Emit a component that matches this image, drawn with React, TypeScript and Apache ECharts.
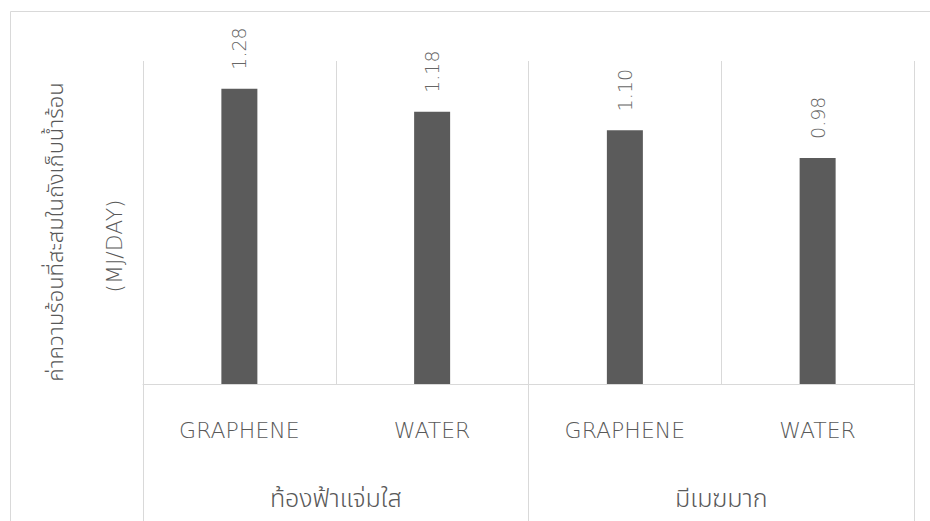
import React, { useEffect, useRef } from "react";
import * as echarts from "echarts";

const subCategories = ["GRAPHENE", "WATER", "GRAPHENE", "WATER"];
const groupCategories = ["ท้องฟ้าแจ่มใส", "มีเมฆมาก"];
const heatValues = [1.28, 1.18, 1.1, 0.98];
const yTitleLine1 = "ค่าความร้อนที่สะสมในถังเก็บน้ำร้อน";
const yTitleLine2 = "(MJ/DAY)";

const FONT = '"Open Sans", "Noto Sans", "Noto Sans Thai", "DejaVu Sans", sans-serif';
const LATIN_FONT = '"DejaVu Sans", "Open Sans", sans-serif';
const GRID_COLOR = "#d9d9d9";
const TEXT_COLOR = "#595959";

export default function App() {
  const ref = useRef<HTMLDivElement>(null);
  useEffect(() => {
    if (!ref.current) return;
    const chart = echarts.init(ref.current, null, { renderer: "svg" });
    chart.setOption({
      animation: false,
      backgroundColor: "#ffffff",
      textStyle: { fontFamily: FONT },
      grid: { left: 143, right: 16, top: 61, bottom: 137, containLabel: false },
      xAxis: [
        {
          type: "category",
          data: subCategories,
          boundaryGap: true,
          axisLine: { show: true, lineStyle: { color: GRID_COLOR, width: 1 } },
          axisTick: { show: false },
          splitLine: { show: true, lineStyle: { color: GRID_COLOR, width: 1 } },
          axisLabel: {
            margin: 35,
            fontSize: 22,
            fontWeight: 200,
            color: TEXT_COLOR,
            fontFamily: LATIN_FONT,
          },
        },
        {
          type: "category",
          data: groupCategories,
          position: "bottom",
          boundaryGap: true,
          axisLine: { show: false },
          axisTick: { show: true, length: 150, lineStyle: { color: GRID_COLOR, width: 1 } },
          splitLine: { show: false },
          axisLabel: {
            margin: 100,
            fontSize: 25,
            fontWeight: 300,
            color: TEXT_COLOR,
            fontFamily: FONT,
          },
        },
      ],
      yAxis: {
        type: "value",
        min: 0,
        max: 1.4,
        interval: 0.2,
        axisLine: { show: false },
        axisTick: { show: false },
        axisLabel: { show: false },
        splitLine: { show: false },
      },
      series: [
        {
          type: "bar",
          xAxisIndex: 0,
          data: heatValues,
          barWidth: 36,
          itemStyle: { color: "#5b5b5b" },
          label: {
            show: true,
            position: "top",
            distance: 19,
            rotate: 90,
            align: "left",
            verticalAlign: "middle",
            fontSize: 19,
            fontWeight: 200,
            color: "#666666",
            fontFamily: LATIN_FONT,
            formatter: (p: any) => Number(p.value).toFixed(2),
          },
        },
      ],
      graphic: [
        {
          type: "rect",
          silent: true,
          shape: { x: 10.5, y: 11.5, width: 1000, height: 600 },
          style: { fill: "none", stroke: GRID_COLOR, lineWidth: 1 },
        },
        {
          type: "text",
          x: 54,
          y: 232,
          rotation: Math.PI / 2,
          style: {
            text: yTitleLine1,
            fontSize: 22,
            fontWeight: 300,
            fill: TEXT_COLOR,
            fontFamily: FONT,
            align: "center",
            verticalAlign: "middle",
          },
        },
        {
          type: "text",
          x: 114,
          y: 246,
          rotation: Math.PI / 2,
          style: {
            text: yTitleLine2,
            fontSize: 22,
            fontWeight: 200,
            fill: TEXT_COLOR,
            fontFamily: LATIN_FONT,
            align: "center",
            verticalAlign: "middle",
          },
        },
      ],
    });
    return () => chart.dispose();
  }, []);
  return (
    <div
      ref={ref}
      style={{ position: "fixed", left: 0, top: 0, width: 930, height: 521 }}
    />
  );
}
